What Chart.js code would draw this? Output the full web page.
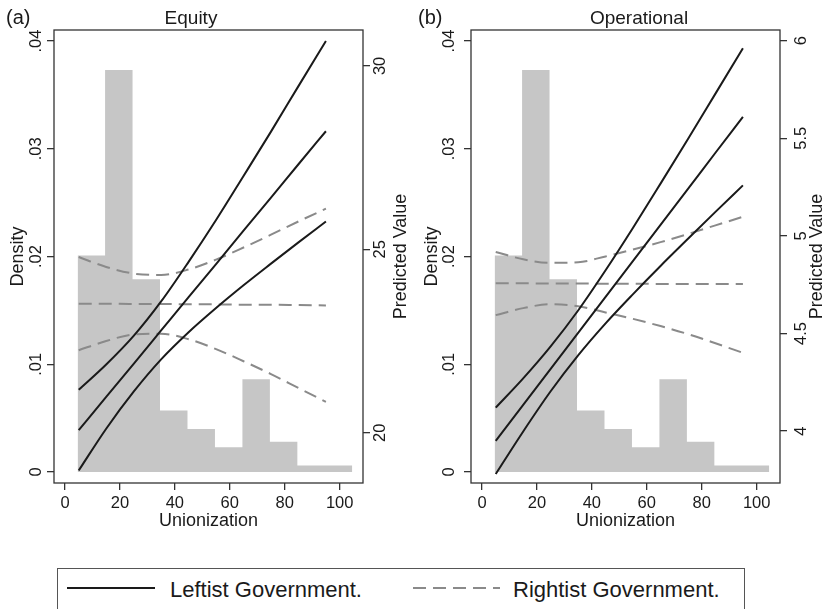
<!DOCTYPE html>
<html>
<head>
<meta charset="utf-8">
<script src="https://cdn.jsdelivr.net/npm/chart.js@4.4.1/dist/chart.umd.min.js"></script>
<style>
  html, body { margin: 0; padding: 0; background: #fff; overflow: hidden; }
  #wrap { position: relative; width: 825px; height: 609px; font-family: "Liberation Sans", Arial, sans-serif; color: #1a1a1a; }
  #equity { position: absolute; left: 0; top: 0; }
  #operational { position: absolute; left: 412px; top: 0; }
  #legendBox { position: absolute; left: 57px; top: 568px; width: 688px; height: 60px; box-sizing: border-box; border: 1.5px solid #555; }
  .key { position: absolute; top: 587px; height: 2px; }
  .key.solid { left: 67px; width: 88px; background: #1a1a1a; }
  .key.dash { left: 413px; width: 87px; background: repeating-linear-gradient(to right, #8a8a8a 0 13px, transparent 13px 20px); }
  .lab { position: absolute; top: 579px; font-size: 22px; line-height: 22px; white-space: nowrap; }
</style>
</head>
<body>
<div id="wrap">
  <canvas id="equity" width="412" height="535"></canvas>
  <canvas id="operational" width="413" height="535"></canvas>
  <div id="legendBox"></div>
  <span class="key solid"></span><span class="lab" style="left:170px">Leftist Government.</span>
  <span class="key dash"></span><span class="lab" style="left:513px">Rightist Government.</span>
</div>
<script>
// unionization values where the predictions are evaluated
const unionX = [5, 15, 25, 35, 45, 55, 65, 75, 85, 95];

// histogram of unionization (bin left edges + last right edge)
const binEdges = [4.6, 14.6, 24.6, 34.6, 44.6, 54.6, 64.6, 74.6, 84.6, 94.6, 104.6];
const binDensity = [0.0201, 0.0373, 0.0179, 0.0057, 0.0040, 0.0023, 0.0086, 0.0028, 0.0006, 0.0006];

const xTicks = [0, 20, 40, 60, 80, 100];
const densityTicks = [0, 0.01, 0.02, 0.03, 0.04];

// (a) Equity
const equityTicks = [20, 25, 30];
const equityLeftMean = [20.07, 20.98, 21.88, 22.79, 23.70, 24.60, 25.51, 26.41, 27.32, 28.22];
const equityLeftHigh = [21.17, 21.86, 22.64, 23.58, 24.66, 25.80, 27.00, 28.21, 29.45, 30.68];
const equityLeftLow = [18.97, 20.11, 21.12, 22.00, 22.74, 23.40, 24.02, 24.61, 25.19, 25.76];
const equityRightMean = [23.52, 23.52, 23.51, 23.51, 23.50, 23.50, 23.49, 23.49, 23.48, 23.47];
const equityRightHigh = [24.79, 24.52, 24.34, 24.30, 24.45, 24.72, 25.05, 25.40, 25.76, 26.11];
const equityRightLow = [22.25, 22.50, 22.68, 22.70, 22.55, 22.28, 21.95, 21.60, 21.22, 20.84];

// (b) Operational
const operTicks = [4, 4.5, 5, 5.5, 6];
const operLeftMean = [3.950, 4.134, 4.319, 4.503, 4.688, 4.872, 5.057, 5.241, 5.426, 5.610];
const operLeftHigh = [4.120, 4.270, 4.434, 4.618, 4.824, 5.042, 5.268, 5.497, 5.729, 5.961];
const operLeftLow = [3.780, 3.998, 4.204, 4.388, 4.552, 4.702, 4.846, 4.985, 5.123, 5.259];
const operRightMean = [4.757, 4.757, 4.756, 4.756, 4.755, 4.755, 4.754, 4.754, 4.753, 4.753];
const operRightHigh = [4.918, 4.880, 4.862, 4.865, 4.895, 4.930, 4.968, 5.010, 5.054, 5.098];
const operRightLow = [4.594, 4.630, 4.650, 4.640, 4.608, 4.575, 4.538, 4.497, 4.450, 4.401];

const FONT = '"Liberation Sans", Arial, sans-serif';
const INK = '#1a1a1a';

function vText(ctx, str, x, y) {
    ctx.save();
    ctx.translate(x, y);
    ctx.rotate(-Math.PI / 2);
    ctx.textAlign = 'center';
    ctx.textBaseline = 'middle';
    ctx.fillText(str, 0, 0);
    ctx.restore();
}

function densityLabel(v) {
    if (v === 0) return '0';
    return '.0' + Math.round(v * 100);
}

// titles, rotated y labels and the frame
const panelText = {
    id: 'panelText',
    afterDraw(chart, args, opts) {
        const {ctx, chartArea, scales} = chart;
        const midY = (chartArea.top + chartArea.bottom) / 2;
        ctx.save();
        ctx.fillStyle = INK;
        ctx.textBaseline = 'alphabetic';
        ctx.font = '20px ' + FONT;
        ctx.textAlign = 'left';
        ctx.fillText(opts.letter, opts.letterX, 24);
        ctx.font = '19px ' + FONT;
        ctx.textAlign = 'center';
        ctx.fillText(opts.title, opts.titleX, 23.5);

        ctx.font = '16.5px ' + FONT;
        scales.y.ticks.forEach(t => vText(ctx, densityLabel(t.value), opts.leftLabelX, scales.y.getPixelForValue(t.value)));
        scales.y2.ticks.forEach(t => vText(ctx, String(t.value), opts.rightLabelX, scales.y2.getPixelForValue(t.value)));

        ctx.font = '18px ' + FONT;
        vText(ctx, 'Density', opts.leftTitleX, midY);
        vText(ctx, 'Predicted Value', opts.rightTitleX, midY);

        ctx.strokeStyle = '#333';
        ctx.lineWidth = 1.3;
        ctx.strokeRect(chartArea.left, chartArea.top, chartArea.right - chartArea.left, chartArea.bottom - chartArea.top);
        ctx.restore();
    }
};

function toPoints(ys) {
    return unionX.map((x, i) => ({x: x, y: ys[i]}));
}

function lineSet(ys, dashed) {
    return {
        data: toPoints(ys),
        yAxisID: 'y2',
        borderColor: dashed ? '#8a8a8a' : INK,
        borderWidth: 2,
        borderDash: dashed ? [13, 7] : [],
        pointRadius: 0,
        cubicInterpolationMode: 'monotone',
        fill: false,
        order: dashed ? 2 : 1
    };
}

function generatePanel(elementId, series, layoutOpts) {
    const ctx = document.getElementById(elementId).getContext('2d');
    const histPoints = binEdges.map((e, i) => ({x: e, y: binDensity[Math.min(i, binDensity.length - 1)]}));

    const datasets = [
        lineSet(series.leftHigh, false),
        lineSet(series.leftMean, false),
        lineSet(series.leftLow, false),
        lineSet(series.rightHigh, true),
        lineSet(series.rightMean, true),
        lineSet(series.rightLow, true),
        {
            data: histPoints,
            yAxisID: 'y',
            stepped: true,
            fill: 'origin',
            backgroundColor: '#c6c6c6',
            borderColor: 'rgba(0,0,0,0)',
            borderWidth: 0,
            pointRadius: 0,
            order: 10
        }
    ];

    const tickGrid = {drawOnChartArea: false, drawTicks: true, tickLength: 7, color: '#333', lineWidth: 1.3};

    let config = {
        type: 'line',
        data: {datasets: datasets},
        options: {
            responsive: false,
            animation: false,
            layout: {padding: {top: 30, left: 0, right: 0, bottom: 0}},
            plugins: {
                legend: {display: false},
                tooltip: {enabled: false},
                panelText: layoutOpts
            },
            scales: {
                x: {
                    type: 'linear',
                    min: -4,
                    max: 108.5,
                    afterBuildTicks: s => { s.ticks = xTicks.map(v => ({value: v})); },
                    afterFit: s => { s.height = 52; },
                    grid: tickGrid,
                    border: {display: false},
                    ticks: {color: INK, padding: 4, font: {family: FONT, size: 16.5}},
                    title: {display: true, text: 'Unionization', color: INK, font: {family: FONT, size: 18}, padding: {top: 0, bottom: 3}}
                },
                y: {
                    type: 'linear',
                    position: 'left',
                    min: -0.00102,
                    max: 0.04102,
                    afterBuildTicks: s => { s.ticks = densityTicks.map(v => ({value: v})); },
                    afterFit: s => { s.width = layoutOpts.leftW; },
                    grid: tickGrid,
                    border: {display: false},
                    ticks: {display: false}
                },
                y2: {
                    type: 'linear',
                    position: 'right',
                    min: series.min,
                    max: series.max,
                    afterBuildTicks: s => { s.ticks = series.ticks.map(v => ({value: v})); },
                    afterFit: s => { s.width = layoutOpts.rightW; },
                    grid: tickGrid,
                    border: {display: false},
                    ticks: {display: false}
                }
            }
        },
        plugins: [panelText]
    };

    return new Chart(ctx, config);
}

generatePanel('equity', {
    leftMean: equityLeftMean, leftHigh: equityLeftHigh, leftLow: equityLeftLow,
    rightMean: equityRightMean, rightHigh: equityRightHigh, rightLow: equityRightLow,
    ticks: equityTicks, min: 18.63, max: 30.98
}, {
    letter: '(a)', letterX: 6, title: 'Equity', titleX: 191,
    leftW: 54, rightW: 49,
    leftLabelX: 36, rightLabelX: 380, leftTitleX: 18, rightTitleX: 401
});

generatePanel('operational', {
    leftMean: operLeftMean, leftHigh: operLeftHigh, leftLow: operLeftLow,
    rightMean: operRightMean, rightHigh: operRightHigh, rightLow: operRightLow,
    ticks: operTicks, min: 3.734, max: 6.055
}, {
    letter: '(b)', letterX: 6, title: 'Operational', titleX: 227,
    leftW: 59, rightW: 45,
    leftLabelX: 37, rightLabelX: 389, leftTitleX: 20, rightTitleX: 405
});
</script>
</body>
</html>
